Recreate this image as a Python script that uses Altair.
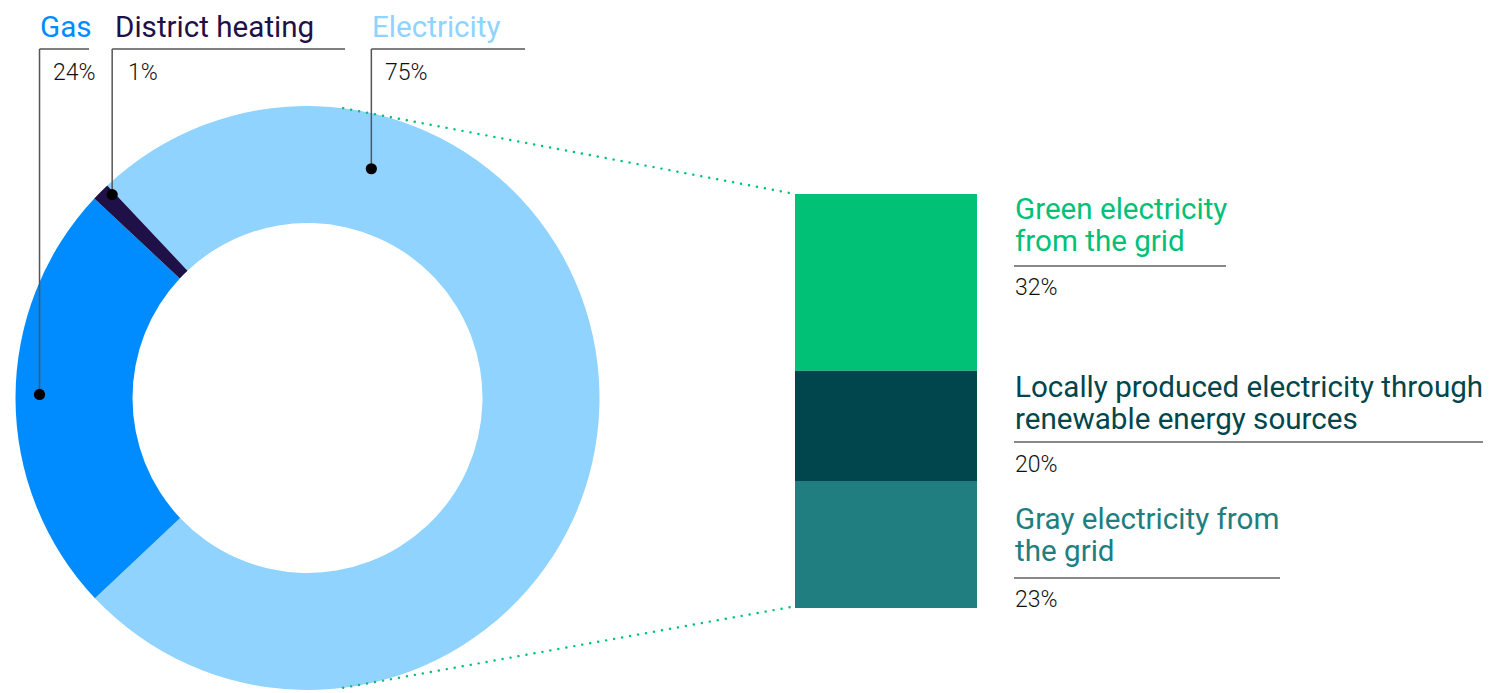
import math
import altair as alt
import pandas as pd

# ---------------- data ----------------
energy_sources = ["Electricity", "Gas", "District heating"]
energy_shares = [75, 24, 1]
energy_colors = ["#8FD3FE", "#008CFF", "#1F1147"]

elec_types = ["Green electricity from the grid",
              "Locally produced electricity through renewable energy sources",
              "Gray electricity from the grid"]
elec_title_lines = [["Green electricity", "from the grid"],
                    ["Locally produced electricity through", "renewable energy sources"],
                    ["Gray electricity from", "the grid"]]
elec_shares = [32, 20, 23]
elec_colors = ["#00C176", "#00464C", "#207E80"]

# ---------------- layout (chart coordinates, page margin removed) ----------------
W, H = 1475, 685
M = 8
CX, CY = 307.5 - M, 398 - M
R_OUT, R_IN = 292, 175
START_DEG = -43.3
BAR_X0, BAR_X1 = 795 - M, 977 - M
BAR_TOP, BAR_BOT = 194 - M, 608 - M
FONT = "Roboto"

# dot placement within each slice: (fraction of slice span, radius)
dot_place = [(0.218, 238), (0.51, 268), (0.85, 282)]
leader_y = 49 - M
leader_end = [525 - M, 89 - M, 345 - M]
left_title_x = [372 - M, 40 - M, 115 - M]
left_pct_x = [385 - M, 53 - M, 128 - M]

# ---------------- donut ----------------
start = math.radians(START_DEG)
donut_df = pd.DataFrame({"source": energy_sources, "share": energy_shares,
                         "ord": list(range(len(energy_sources))), "color": energy_colors})
donut = alt.Chart(donut_df).mark_arc(outerRadius=R_OUT, innerRadius=R_IN).encode(
    theta=alt.Theta("share:Q", stack=True,
                    scale=alt.Scale(domain=[0, sum(energy_shares)], range=[start, start + 2 * math.pi])),
    order=alt.Order("ord:Q"),
    color=alt.Color("color:N", scale=None),
    x=alt.value(CX), y=alt.value(CY),
)

# ---------------- stacked bar (top to bottom: green, local, gray) ----------------
bar_total = sum(elec_shares)
tops, bots = [], []
acc = bar_total
for s in elec_shares:
    tops.append(acc)
    bots.append(acc - s)
    acc -= s
bar_df = pd.DataFrame({"type": elec_types, "share": elec_shares, "top": tops, "bot": bots,
                       "color": elec_colors})
bars = alt.Chart(bar_df).mark_rect().encode(
    y=alt.Y("bot:Q", axis=None,
            scale=alt.Scale(domain=[0, bar_total], range=[BAR_BOT, BAR_TOP], nice=False, zero=False)),
    y2="top:Q",
    color=alt.Color("color:N", scale=None),
    x=alt.value(BAR_X0), x2=alt.value(BAR_X1),
)

# ---------------- derived annotation geometry ----------------
def polar(deg, r):
    a = math.radians(deg)
    return CX + r * math.sin(a), CY - r * math.cos(a)

total = sum(energy_shares)
cum = 0
dots = []
for share, (frac, r) in zip(energy_shares, dot_place):
    a0 = START_DEG + 360 * cum / total
    a1 = START_DEG + 360 * (cum + share) / total
    dots.append(polar(a0 + frac * (a1 - a0), r))
    cum += share

rule_rows = []
for (dx, dy), xe in zip(dots, leader_end):
    rule_rows.append({"x": dx, "y": leader_y, "x2": xe, "y2": leader_y})
    rule_rows.append({"x": dx, "y": leader_y, "x2": dx, "y2": dy})
leaders = alt.Chart(pd.DataFrame(rule_rows)).mark_rule(color="#555555", strokeWidth=1.5).encode(
    x=alt.X("x:Q", scale=None, axis=None), y=alt.Y("y:Q", scale=None, axis=None),
    x2="x2:Q", y2="y2:Q")

dot_df = pd.DataFrame({"x": [d[0] for d in dots], "y": [d[1] for d in dots]})
dot_layer = alt.Chart(dot_df).mark_circle(size=125, color="black", opacity=1).encode(
    x=alt.X("x:Q", scale=None, axis=None), y=alt.Y("y:Q", scale=None, axis=None))

# dotted connectors from donut edge to bar corners
p_top = polar(7, R_OUT)
p_bot = polar(173, R_OUT)
conn_df = pd.DataFrame([
    {"x": p_top[0], "y": p_top[1], "x2": BAR_X0, "y2": BAR_TOP},
    {"x": p_bot[0], "y": p_bot[1], "x2": BAR_X0 - 4, "y2": BAR_BOT - 1},
])
connectors = alt.Chart(conn_df).mark_rule(color="#00C176", strokeWidth=2.4, strokeDash=[0.1, 8],
                                          strokeCap="round").encode(
    x=alt.X("x:Q", scale=None, axis=None), y=alt.Y("y:Q", scale=None, axis=None),
    x2="x2:Q", y2="y2:Q")

# ---------------- texts ----------------
title_rows, pct_rows = [], []
for name, color, share, tx, px in zip(energy_sources, energy_colors, energy_shares, left_title_x, left_pct_x):
    title_rows.append({"text": name, "x": tx, "y": 37 - M, "color": color})
    pct_rows.append({"text": f"{share}%", "x": px, "y": 80 - M})

right_x = 1015 - M
right_base = [219 - M, 397 - M, 529 - M]
right_line_gap = 32
under_y = [266 - M, 442 - M, 578 - M]
under_end = [1226 - M, 1484 - M, 1280 - M]
right_pct_y = [295 - M, 472 - M, 607 - M]
under_rows = []
for lines, color, share, yb, uy, ue, py in zip(elec_title_lines, elec_colors, elec_shares,
                                             right_base, under_y, under_end, right_pct_y):
    for i, ln in enumerate(lines):
        title_rows.append({"text": ln, "x": right_x, "y": yb + i * right_line_gap, "color": color})
    under_rows.append({"x": right_x - 1, "y": uy, "x2": ue, "y2": uy})
    pct_rows.append({"text": f"{share}%", "x": right_x, "y": py})

titles = alt.Chart(pd.DataFrame(title_rows)).mark_text(
    align="left", baseline="alphabetic", font=FONT, fontSize=29.6, fontWeight=400).encode(
    x=alt.X("x:Q", scale=None, axis=None), y=alt.Y("y:Q", scale=None, axis=None),
    text="text:N", color=alt.Color("color:N", scale=None))

pcts = alt.Chart(pd.DataFrame(pct_rows)).mark_text(
    align="left", baseline="alphabetic", font=FONT, fontSize=23, fontWeight=300, color="#111111").encode(
    x=alt.X("x:Q", scale=None, axis=None), y=alt.Y("y:Q", scale=None, axis=None),
    text="text:N")

underlines = alt.Chart(pd.DataFrame(under_rows)).mark_rule(color="#888888", strokeWidth=2).encode(
    x=alt.X("x:Q", scale=None, axis=None), y=alt.Y("y:Q", scale=None, axis=None),
    x2="x2:Q", y2="y2:Q")

chart = alt.layer(donut, bars, connectors, leaders, dot_layer, underlines, titles, pcts).resolve_scale(
    x="independent", y="independent", color="independent", theta="independent"
).properties(width=W, height=H, padding=0, autosize="none").configure_view(stroke=None)

chart.save("out.html", embed_options={"renderer": "svg", "actions": False})
